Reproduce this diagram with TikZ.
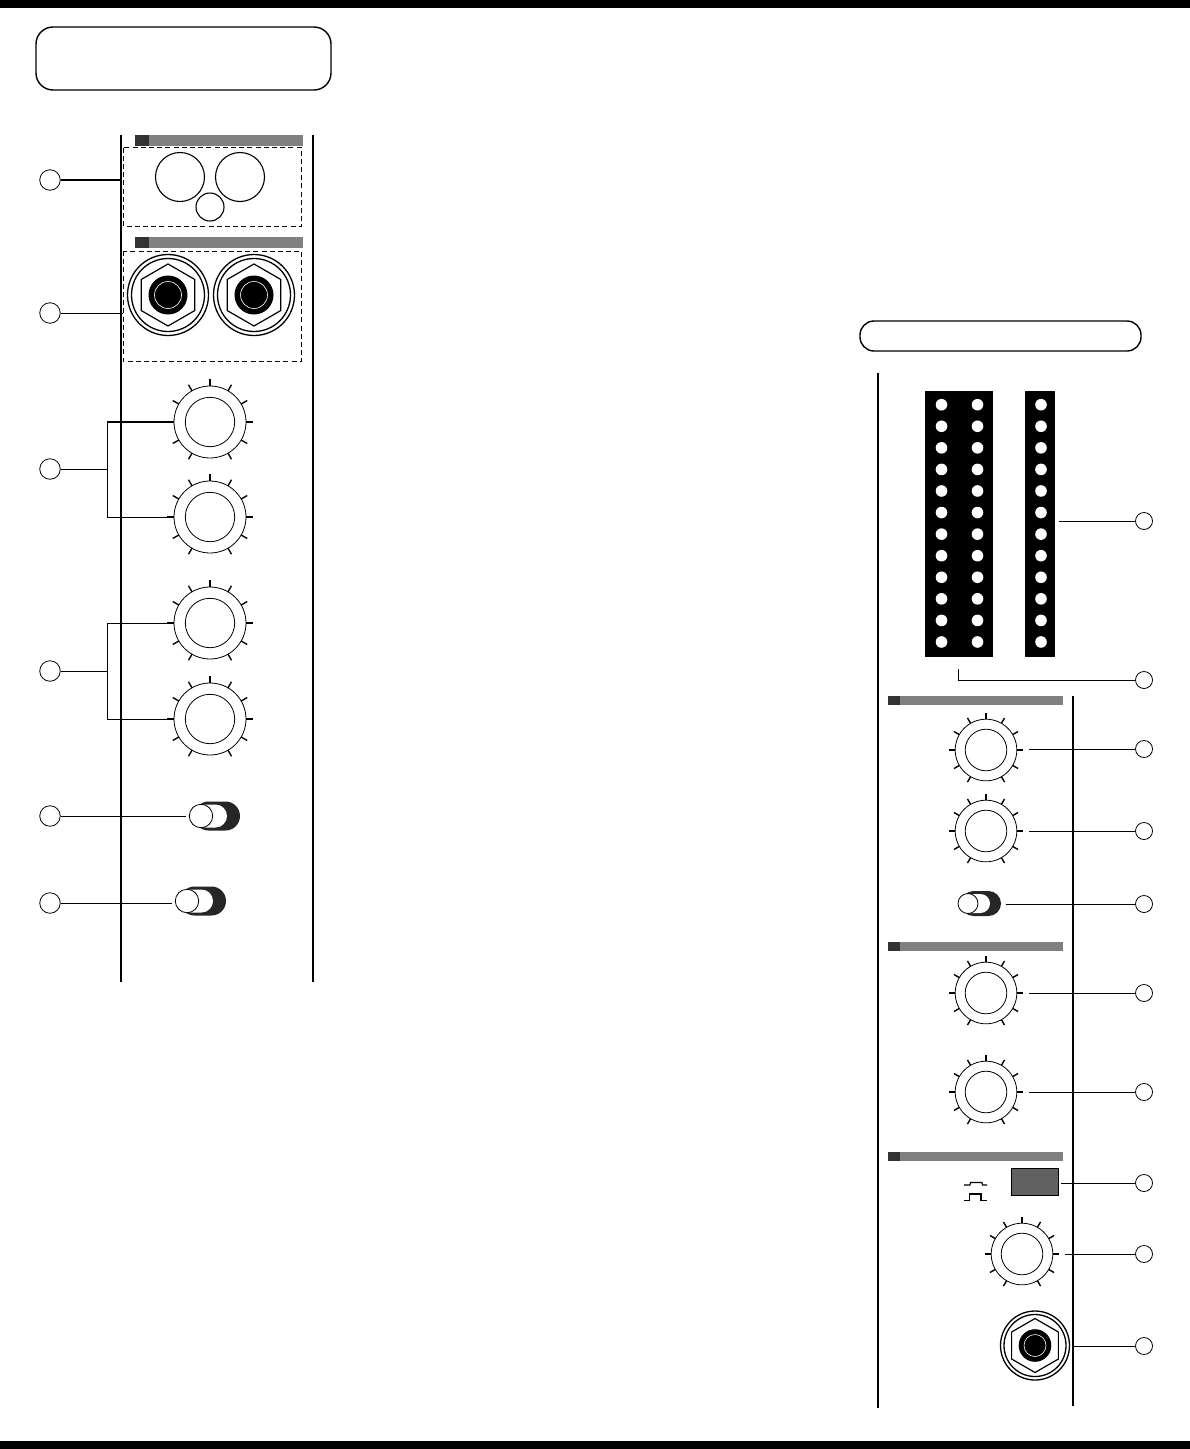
\documentclass[tikz,border=0pt]{standalone}
\usepackage{tikz}
\definecolor{barmid}{gray}{0.5}
\definecolor{bardark}{gray}{0.2}
\definecolor{btngray}{gray}{0.38}
\definecolor{pilldark}{gray}{0.15}
\tikzset{
  callout/.style={circle,draw,fill=white,inner sep=0pt,line width=0.8pt},
  calloutL/.style={callout,minimum size=20.5pt},
  calloutR/.style={callout,minimum size=17pt},
  lead/.style={line width=1pt},
  panel/.style={line width=2.2pt},
  hatch/.style={dashed,dash pattern=on 5pt off 3.2pt,line width=1pt},
  knobring/.style={circle,draw,fill=white,inner sep=0pt,line width=0.8pt},
}
% name, x, y, outer radius, inner radius, tick radius
\newcommand{\knob}[6]{
  \foreach \ang in {-60,-30,...,240}
    \draw[line width=1.4pt] (#2,#3) ++(\ang:#4 pt) -- ++(\ang:#6pt-#4pt);
  \node[knobring,minimum size=2*#4 pt] (#1) at (#2,#3) {};
  \draw[line width=0.8pt] (#2,#3) circle (#5pt);
}
% name, x, y, outer, second, hexagon, black, ring
\newcommand{\jack}[8]{
  \node[knobring,minimum size=2*#4 pt,line width=1.3pt] (#1) at (#2,#3) {};
  \draw[line width=1.3pt] (#2,#3) circle (#5pt);
  \draw[line width=1.2pt] (#2,#3) ++(90:#6pt) -- ++(210:#6pt) -- ++(270:#6pt) -- ++(330:#6pt) -- ++(30:#6pt) -- ++(90:#6pt) -- cycle;
  \fill (#2,#3) circle (#7pt);
  \draw[white,line width=0.6pt] (#2,#3) circle (#8pt);
}
% name, x, y, handle radius, pill radius, right end of pill, right end of white part
\newcommand{\toggle}[7]{
  \fill[pilldark,rounded corners=#5pt] (#2-7,#3-#5) rectangle (#6,#3+#5);
  \fill[white,rounded corners=#5pt-3pt] (#2-7,#3-#5+3) rectangle (#7,#3+#5-3);
  \node[knobring,minimum size=2*#4 pt] (#1) at (#2,#3) {};
}
% x left, x right, x end of dark part, y top, y bottom
\newcommand{\headbar}[5]{
  \fill[barmid] (#1,#4) rectangle (#2,#5);
  \fill[bardark] (#1,#4) rectangle (#3,#5);
}
\begin{document}
\begin{tikzpicture}[x=1pt,y=-1pt]
\useasboundingbox (0,0) rectangle (1190,1449);
\fill (0,0) rectangle (1190,8);
\fill (0,1441) rectangle (1190,1449);

\draw[line width=1.4pt,rounded corners=17pt] (36,27) rectangle (331,90);
\draw[line width=1.4pt,rounded corners=14pt] (860,321) rectangle (1141,351);

\draw[panel] (121,135) -- (121,982);
\draw[panel] (313,135) -- (313,982);
\draw[panel] (878,373) -- (878,1408);
\draw[line width=1.5pt] (1073,696) -- (1073,1406);

\headbar{135}{303}{149}{135}{146}
\headbar{135}{303}{149}{237}{248}
\draw[hatch] (123.3,147.5) rectangle (301.7,226.3);
\draw[hatch] (123.3,251) rectangle (301.7,361.5);
\draw[line width=1.1pt] (180,177) circle (24.5pt);
\draw[line width=1.1pt] (240,177) circle (24.5pt);
\draw[line width=1.1pt] (210,207) circle (14pt);

\jack{j1}{168}{295}{40.5}{36.5}{31}{19.5}{13.5}
\jack{j2}{254}{295}{40.5}{36.5}{31}{19.5}{13.5}

\knob{k1}{210}{422}{36}{24.7}{43}
\knob{k2}{210}{517}{36}{24.7}{43}
\knob{k3}{210}{623}{36}{24.7}{43}
\knob{k4}{210}{719}{36}{24.7}{43}

\toggle{t1}{201}{816}{11.7}{14.5}{240}{227}
\toggle{t2}{187}{901}{11.7}{14.5}{226}{213}

\node[calloutL] (c1) at (50,180) {};
\node[calloutL] (c2) at (50,313) {};
\node[calloutL] (c3) at (50,469) {};
\node[calloutL] (c4) at (50,671) {};
\node[calloutL] (c5) at (50,816) {};
\node[calloutL] (c6) at (50,903) {};

\coordinate (e1) at (121,180);
\coordinate (e2) at (123,313);
\coordinate (b3) at (107,469);
\coordinate (b4) at (107,671);
\coordinate (e5) at (186,816);
\coordinate (e6) at (172,903);
\draw[line width=2.2pt] (c1) -- (e1);
\draw[lead] (c2) -- (e2);
\draw[lead] (c3) -- (b3);
\draw[lead] (c4) -- (b4);
\draw[lead] (c5) -- (e5);
\draw[lead] (c6) -- (e6);
\draw[lead] (107,517) -- (107,422);
\draw[line width=1.8pt] (106.5,422) -- (k1.west);
\draw[lead] (107,517) -- (k2.west);
\draw[lead] (k3.west) -- (107,623) -- (107,719) -- (k4.west);

\fill (925,391) rectangle (993,657);
\fill (1025,391) rectangle (1055,657);
\foreach \i in {0,...,11}{
  \fill[white] (941.5,404.7+21.57*\i) circle (5.8pt);
  \fill[white] (977.5,404.7+21.57*\i) circle (5.8pt);
  \fill[white] (1041,404.7+21.57*\i) circle (5.8pt);
}

\headbar{888}{1063}{900}{696}{705}
\headbar{888}{1063}{900}{942}{951}
\headbar{888}{1063}{900}{1152}{1161}

\knob{k5}{986}{750}{30.8}{20.8}{37}
\knob{k6}{986}{831}{30.8}{20.8}{37}
\toggle{t3}{968}{903.5}{10}{12.5}{1001}{990}
\knob{k7}{986}{993}{30.8}{20.8}{37}
\knob{k8}{986}{1092}{30.8}{20.8}{37}
\knob{k9}{1022}{1254}{30.8}{20.8}{37}
\jack{j3}{1035}{1345.5}{34.5}{31}{27}{16.3}{11}

\node[draw,fill=btngray,line width=1.1pt,inner sep=0pt,minimum width=47.5pt,minimum height=27.5pt] (btn) at (1035,1182) {};
\draw[line width=1.1pt] (964,1185) -- (970,1185) -- (970.5,1182.5) -- (982,1182.5) -- (982.5,1185) -- (987,1185);
\draw[line width=1.8pt] (970.5,1182.5) -- (982,1182.5);
\draw[line width=1.1pt] (964,1200.5) -- (969.5,1200.5) -- (969.5,1194) -- (981,1194) -- (981,1200.5) -- (987,1200.5);

\node[calloutR] (c7) at (1144,521) {};
\node[calloutR] (c8) at (1144,680) {};
\node[calloutR] (c9) at (1144,749) {};
\node[calloutR] (c10) at (1144,831) {};
\node[calloutR] (c11) at (1144,904) {};
\node[calloutR] (c12) at (1144,993) {};
\node[calloutR] (c13) at (1144,1092) {};
\node[calloutR] (c14) at (1144,1183) {};
\node[calloutR] (c15) at (1144,1254) {};
\node[calloutR] (c16) at (1144,1346) {};

\coordinate (e7) at (1059,521);
\coordinate (e8) at (958,669);
\coordinate (e9) at (1029,749);
\coordinate (e10) at (1029,831);
\coordinate (e11) at (1006,904);
\coordinate (e12) at (1029,993);
\coordinate (e13) at (1029,1092);
\coordinate (e14) at (1061,1183);
\coordinate (e15) at (1065,1254);
\coordinate (e16) at (1073,1346);
\draw[lead] (c7) -- (e7);
\draw[lead] (c8) -- (958,680) -- (e8);
\draw[lead] (c9) -- (e9);
\draw[lead] (c10) -- (e10);
\draw[lead] (c11) -- (e11);
\draw[lead] (c12) -- (e12);
\draw[lead] (c13) -- (e13);
\draw[lead] (c14) -- (e14);
\draw[lead] (c15) -- (e15);
\draw[lead] (c16) -- (e16);
\end{tikzpicture}
\end{document}
